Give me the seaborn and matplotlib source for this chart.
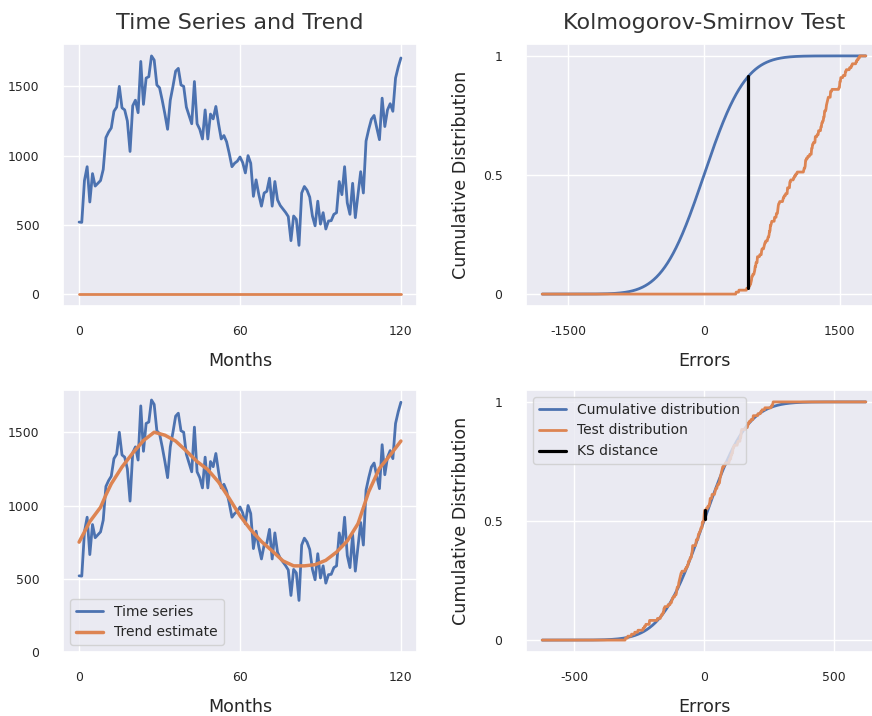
import math

import numpy as np
import pandas as pd
import matplotlib
matplotlib.use("Agg")
import matplotlib.pyplot as plt
import seaborn as sns

# ---- data -------------------------------------------------------------
months = list(range(121))
series = [
    520, 518, 820, 920, 665, 870, 780, 800, 820, 900,
    1130, 1170, 1200, 1320, 1350, 1500, 1345, 1330, 1250, 1030,
    1360, 1400, 1310, 1680, 1370, 1560, 1570, 1720, 1690, 1510,
    1490, 1400, 1300, 1190, 1400, 1500, 1610, 1630, 1510, 1500,
    1350, 1290, 1230, 1535, 1230, 1190, 1120, 1330, 1120, 1300,
    1265, 1355, 1230, 1120, 1145, 1100, 1015, 920, 945, 960,
    990, 950, 875, 1000, 945, 706, 825, 720, 635, 730,
    742, 837, 635, 813, 680, 640, 615, 590, 560, 386,
    564, 540, 352, 730, 777, 750, 700, 564, 493, 671,
    505, 588, 470, 528, 530, 576, 588, 813, 718, 920,
    659, 576, 800, 552, 720, 884, 730, 1105, 1190, 1263,
    1290, 1200, 1115, 1415, 1210, 1330, 1375, 1320, 1560, 1640,
    1705,
]
initial_trend = [0] * len(months)

trend_months = [0, 4, 8, 10, 12, 16, 20, 24, 28, 32, 36, 40, 44, 48, 52, 56,
                60, 64, 68, 72, 76, 80, 84, 88, 92, 96, 100, 104, 108, 112,
                116, 120]
trend_values = [750, 890, 988, 1072, 1148, 1263, 1358, 1443, 1500, 1480,
                1440, 1372, 1300, 1245, 1160, 1048, 930, 834, 754, 690,
                622, 588, 588, 596, 626, 682, 758, 876, 1094, 1254,
                1344, 1440]

# extent of the error axis on which the two CDFs are evaluated
raw_error_limit = 1790
resid_error_limit = 624

month_ticks = [0, 60, 120]
value_ticks = [0, 500, 1000, 1500]
prob_ticks = [0, 0.5, 1]
prob_tick_labels = ["0", "0.5", "1"]
raw_error_ticks = [-1500, 0, 1500]
resid_error_ticks = [-500, 0, 500]

# ---- style ------------------------------------------------------------
sns.set_theme(style="darkgrid")
plt.rcParams["font.family"] = ["DejaVu Sans"]
blue, orange = sns.color_palette("deep")[:2]

TICK_FS = 8.9
LABEL_FS = 12.6
TITLE_FS = 16.0
LEGEND_FS = 10
LW = 2.0


def ks_curves(errors, limit, n=700):
    """Normal CDF (zero mean, std of errors) vs empirical CDF of errors."""
    errors = np.asarray(errors, dtype=float)
    sigma = errors.std()
    grid = np.linspace(-limit, limit, n)
    erf = np.frompyfunc(math.erf, 1, 1)
    cdf = 0.5 * (1.0 + erf(grid / (sigma * math.sqrt(2.0))).astype(float))
    ecdf = np.searchsorted(np.sort(errors), grid, side="right") / errors.size
    k = int(np.argmax(np.abs(ecdf - cdf)))
    return grid, cdf, ecdf, k


def style_axes(ax):
    ax.tick_params(axis="x", length=0, pad=14, labelsize=TICK_FS)
    ax.tick_params(axis="y", length=0, pad=17, labelsize=TICK_FS)


def draw_ks(ax, errors, limit, ticks, legend=False):
    grid, cdf, ecdf, k = ks_curves(errors, limit)
    df = pd.DataFrame({"err": grid, "cdf": cdf, "ecdf": ecdf})
    sns.lineplot(data=df, x="err", y="cdf", ax=ax, color=blue, lw=LW,
                 label="Cumulative distribution")
    sns.lineplot(data=df, x="err", y="ecdf", ax=ax, color=orange, lw=LW,
                 label="Test distribution")
    ks_df = pd.DataFrame({"err": [grid[k], grid[k]],
                          "p": [ecdf[k], cdf[k]]})
    sns.lineplot(data=ks_df, x="err", y="p", ax=ax, color="black", lw=2.3,
                 label="KS distance", sort=False, estimator=None)
    ax.set_xticks(ticks)
    ax.set_xticklabels([str(t) for t in ticks])
    ax.set_yticks(prob_ticks)
    ax.set_yticklabels(prob_tick_labels)
    ax.set_xlabel("Errors", fontsize=LABEL_FS, labelpad=10)
    ax.set_ylabel("Cumulative Distribution", fontsize=LABEL_FS, labelpad=9)
    if legend:
        ax.legend(loc="upper left", fontsize=LEGEND_FS)
    else:
        ax.get_legend().remove()
    style_axes(ax)


W, H = 872, 716
fig = plt.figure(figsize=(W / 100, H / 100), dpi=100)
ax_ts = fig.add_axes([63 / W, 410 / H, 354 / W, 262 / H])
ax_ks = fig.add_axes([526 / W, 410 / H, 356 / W, 262 / H])
ax_fit = fig.add_axes([63 / W, 64 / H, 354 / W, 262 / H])
ax_ks2 = fig.add_axes([526 / W, 64 / H, 356 / W, 262 / H])

# top left: raw series with the initial (zero) trend
sns.lineplot(x=months, y=series, ax=ax_ts, color=blue, lw=LW)
sns.lineplot(x=months, y=initial_trend, ax=ax_ts, color=orange, lw=LW)
ax_ts.set_xticks(month_ticks)
ax_ts.set_yticks(value_ticks)
ax_ts.set_xlabel("Months", fontsize=LABEL_FS, labelpad=10)
ax_ts.set_title("Time Series and Trend", fontsize=TITLE_FS, pad=11,
                color=".2")
style_axes(ax_ts)

# top right: KS test of the raw series against the zero trend
raw_errors = np.asarray(series, float) - np.asarray(initial_trend, float)
draw_ks(ax_ks, raw_errors, raw_error_limit, raw_error_ticks)
ax_ks.set_title("Kolmogorov-Smirnov Test", fontsize=TITLE_FS, pad=11,
                color=".2")

# bottom left: series with the fitted trend
sns.lineplot(x=months, y=series, ax=ax_fit, color=blue, lw=LW,
             label="Time series")
sns.lineplot(x=trend_months, y=trend_values, ax=ax_fit, color=orange,
             lw=2.5, label="Trend estimate")
ax_fit.set_ylim(bottom=0)
ax_fit.set_xticks(month_ticks)
ax_fit.set_yticks(value_ticks)
ax_fit.set_xlabel("Months", fontsize=LABEL_FS, labelpad=10)
ax_fit.legend(loc="lower left", fontsize=LEGEND_FS)
style_axes(ax_fit)

# bottom right: KS test of the residuals
trend_at_months = np.interp(months, trend_months, trend_values)
residuals = np.asarray(series, float) - trend_at_months
draw_ks(ax_ks2, residuals, resid_error_limit, resid_error_ticks, legend=True)

fig.savefig("out.png", dpi=100)
